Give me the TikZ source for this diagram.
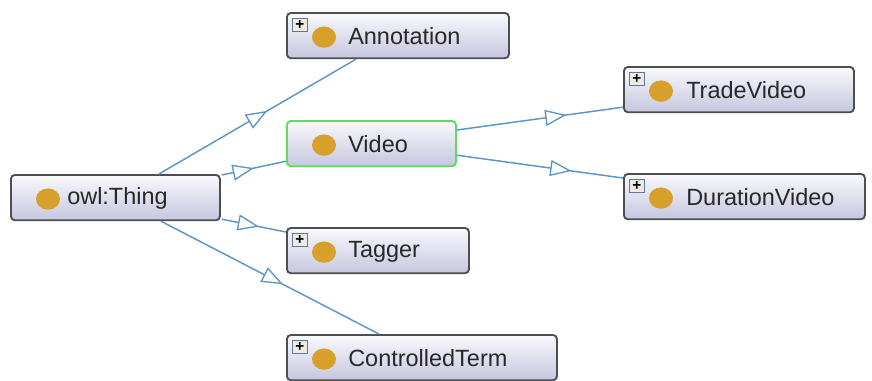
\documentclass[tikz,border=0pt]{standalone}
\usepackage{fontspec}
\setmainfont{Liberation Sans}
\usetikzlibrary{calc,arrows.meta,decorations.markings}
\definecolor{edgeblue}{RGB}{92,150,200}
\definecolor{boxborder}{RGB}{78,78,82}
\definecolor{boxtop}{RGB}{249,249,253}
\definecolor{boxbottom}{RGB}{198,198,224}
\definecolor{goldball}{RGB}{214,160,42}
\definecolor{labeltext}{RGB}{40,40,40}
\definecolor{selgreen}{RGB}{92,222,92}
\definecolor{plusborder}{RGB}{96,120,150}
\definecolor{plusfill}{RGB}{236,234,226}
\begin{document}
\begin{tikzpicture}[x=0.75pt,y=-0.75pt,
  cls/.style={draw=boxborder, line width=1.4pt, rounded corners=3pt,
    top color=boxtop, bottom color=boxbottom, minimum height=34pt,
    inner sep=0pt, anchor=north west},
  sel/.style={cls, draw=selgreen},
  lbl/.style={anchor=west, inner sep=0pt, text=labeltext,
    font=\fontsize{17.6pt}{20pt}\selectfont},
  ball/.style={fill=goldball},
  plusbox/.style={draw=plusborder, line width=0.8pt, fill=plusfill,
    minimum width=11pt, minimum height=10pt, inner sep=0pt,
    anchor=north west, font=\fontsize{11.5pt}{11.5pt}\selectfont\bfseries},
  edge/.style={draw=edgeblue, line width=1.1pt},
  tri/.style={postaction={decorate}, decoration={markings,
    mark=at position #1 with {\arrow{Triangle[fill=white,length=16pt,width=12pt,line width=1pt]}}}}
]
\useasboundingbox (0,0) rectangle (872,380);

% boxes
\node[cls, minimum width=156.75pt] (thing) at (10,174) {};
\node[cls, minimum width=166.5pt] (annotation) at (286,12) {};
\node[sel, minimum width=126.75pt] (video) at (286,120) {};
\node[cls, minimum width=136.5pt] (tagger) at (286,227) {};
\node[cls, minimum width=202.5pt] (controlled) at (286,334) {};
\node[cls, minimum width=172.5pt] (trade) at (623,66) {};
\node[cls, minimum width=180.75pt] (duration) at (623,173) {};

% edges
\path[edge, tri=0.55] ($(thing.north)+(43.5,0)$) -- ($(annotation.south)+(-42,0)$);
\path[edge, tri=0.5] ($(thing.north east)+(1,1)$) -- ($(video.south west)+(0,-6)$);
\path[edge, tri=0.58] ($(thing.south east)+(1,-2)$) -- ($(tagger.north west)+(0,5)$);
\path[edge, tri=0.56] ($(thing.south)+(45.5,0)$) -- ($(controlled.north)+(-43,0)$);
\path[edge, tri=0.66] ($(video.north east)+(0,10)$) -- ($(trade.south west)+(0,-6)$);
\path[edge, tri=0.69] ($(video.south east)+(0,-12)$) -- ($(duration.north west)+(0,5)$);

% balls
\foreach \n in {thing,annotation,video,tagger,controlled,trade,duration}{
  \fill[ball] ($(\n.west)+(38,1.5)$) ellipse [x radius=9pt, y radius=8pt];
}

% labels
\node[lbl] (thing-t) at ($(thing.west)+(57,1)$) {owl:Thing};
\node[lbl] (annotation-t) at ($(annotation.west)+(62,1)$) {Annotation};
\node[lbl] (video-t) at ($(video.west)+(62,1)$) {Video};
\node[lbl] (tagger-t) at ($(tagger.west)+(62,1)$) {Tagger};
\node[lbl] (controlled-t) at ($(controlled.west)+(62,1)$) {ControlledTerm};
\node[lbl] (trade-t) at ($(trade.west)+(63,1)$) {TradeVideo};
\node[lbl] (duration-t) at ($(duration.west)+(63,1)$) {DurationVideo};

% plus boxes
\foreach \n in {annotation,tagger,controlled,trade,duration}{
  \node[plusbox] (\n-plus) at ($(\n.north west)+(6,6)$) {+};
}
\end{tikzpicture}
\end{document}
